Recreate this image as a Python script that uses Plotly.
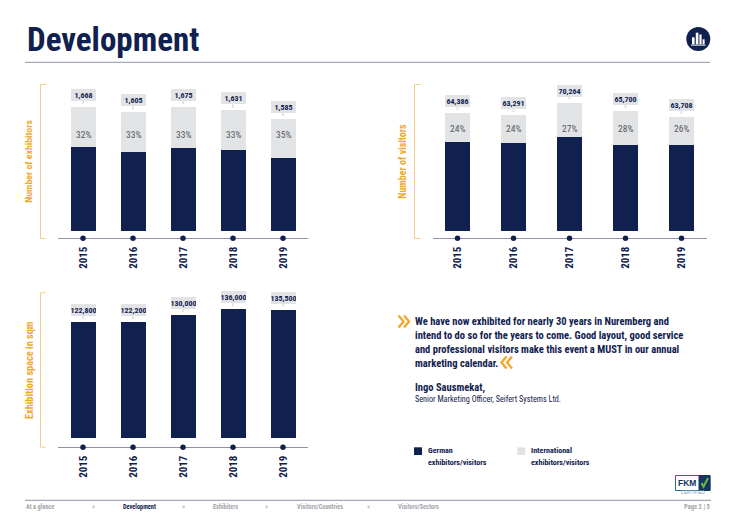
import plotly.graph_objects as go

W, H = 740, 523
NAVY = "#10214f"
GREY = "#e1e3e5"
ORANGE = "#efa92f"
BRACKET = "#f6cd85"
RULE = "#9093aa"
FONT = "Roboto Condensed"

years = ["2015", "2016", "2017", "2018", "2019"]

exhibitors_german = [1131, 1070, 1117, 1090, 982]
exhibitors_international = [538, 526, 552, 532, 525]
exhibitors_labels = ["1,668", "1,605", "1,675", "1,631", "1,585"]
exhibitors_pct = ["32%", "33%", "33%", "33%", "35%"]

visitors_german = [48933, 48101, 51293, 47304, 47144]
visitors_international = [15453, 15190, 18971, 18396, 15400]
visitors_labels = ["64,386", "63,291", "70,264", "65,700", "63,708"]
visitors_pct = ["24%", "24%", "27%", "28%", "26%"]

space_values = [122800, 122200, 130000, 136000, 135500]
space_labels = ["122,800", "122,200", "130,000", "136,000", "135,500"]


def px(x):
    return x / W


def py(y):
    return 1 - y / H


fig = go.Figure()

charts = [
    dict(n="", l=58.3, r=307.7, t=84.5, b=238.2, zero=231.0, upp=1 / 0.0743, sp=50.0),
    dict(n="2", l=432.8, r=706.7, t=84.5, b=238.2, zero=231.0, upp=547.0, sp=56.0),
    dict(n="3", l=58.3, r=307.7, t=292.7, b=447.2, zero=438.3, upp=1054.0, sp=50.0),
]
centre0 = [83.0, 457.5, 83.0]

layout = {}
for c, c0 in zip(charts, centre0):
    xr = [-(c0 - c["l"]) / c["sp"], (c["r"] - c0) / c["sp"]]
    yr = [-(c["b"] - c["zero"]) * c["upp"], (c["zero"] - c["t"]) * c["upp"]]
    c["yr"] = yr
    c["barw"] = 25.0 / c["sp"]
    layout["xaxis" + c["n"]] = dict(
        domain=[px(c["l"]), px(c["r"])], range=xr, anchor="y" + c["n"],
        type="linear", tickmode="array", tickvals=list(range(5)), ticktext=years,
        tickangle=-90, ticks="", showgrid=False, zeroline=False, showline=True,
        linecolor=RULE, linewidth=1, ticklabelstandoff=3, layer="below traces",
        tickfont=dict(family=FONT, size=11, color=NAVY, weight="bold"),
    )
    layout["yaxis" + c["n"]] = dict(
        domain=[py(c["b"]), py(c["t"])], range=yr, anchor="x" + c["n"],
        visible=False, showgrid=False, zeroline=False,
    )

idx = list(range(5))


def bars(vals, c, color, name):
    fig.add_trace(go.Bar(
        x=idx, y=vals, width=c["barw"], marker=dict(color=color, line=dict(width=0)),
        name=name, xaxis="x" + c["n"], yaxis="y" + c["n"], showlegend=False,
        hoverinfo="y",
    ))


def dots(c):
    fig.add_trace(go.Scatter(
        x=idx, y=[c["yr"][0]] * 5, mode="markers", cliponaxis=False,
        marker=dict(color=NAVY, size=5.5), xaxis="x" + c["n"], yaxis="y" + c["n"],
        showlegend=False, hoverinfo="skip",
    ))


anns = []
shapes = []


def value_labels(tops, labels, c):
    for i, (top, lab) in enumerate(zip(tops, labels)):
        anns.append(dict(
            x=i, y=top, xref="x" + c["n"], yref="y" + c["n"], text=f"<b>{lab}</b>",
            showarrow=True, arrowhead=0, arrowwidth=2, arrowcolor=GREY, ax=0, ay=-12,
            standoff=3, bgcolor=GREY, width=25, height=12, borderpad=0, borderwidth=0,
            align="center", valign="middle",
            font=dict(family=FONT, size=8, color=NAVY),
        ))


def pct_labels(labels, c, y_px):
    frac = (c["b"] - y_px) / (c["b"] - c["t"])
    for i, lab in enumerate(labels):
        anns.append(dict(
            x=i, y=frac, xref="x" + c["n"], yref="y" + c["n"] + " domain", text=lab,
            yanchor="middle", showarrow=False,
            font=dict(family=FONT, size=9.5, color="#55585f"),
        ))


c1, c2, c3 = charts
bars(exhibitors_german, c1, NAVY, "German exhibitors/visitors")
bars(exhibitors_international, c1, GREY, "International exhibitors/visitors")
bars(visitors_german, c2, NAVY, "German exhibitors/visitors")
bars(visitors_international, c2, GREY, "International exhibitors/visitors")
bars(space_values, c3, NAVY, "Exhibition space")
for c in charts:
    dots(c)

value_labels([a + b for a, b in zip(exhibitors_german, exhibitors_international)], exhibitors_labels, c1)
value_labels([a + b for a, b in zip(visitors_german, visitors_international)], visitors_labels, c2)
value_labels(space_values, space_labels, c3)
pct_labels(exhibitors_pct, c1, 134.0)
pct_labels(visitors_pct, c2, 128.5)


def paper_text(x, y, text, size, color=NAVY, xanchor="left", angle=0, family=FONT):
    anns.append(dict(
        x=px(x), y=py(y), xref="paper", yref="paper", text=text, showarrow=False,
        xanchor=xanchor, yanchor="middle", textangle=angle, borderpad=0,
        font=dict(family=family, size=size, color=color),
    ))


def rect(x0, y0, x1, y1, fill, line=None, lw=0):
    shapes.append(dict(
        type="rect", xref="paper", yref="paper", x0=px(x0), x1=px(x1), y0=py(y0), y1=py(y1),
        fillcolor=fill, line=dict(color=line or fill, width=lw),
    ))


def hline(x0, x1, y, color=RULE, lw=1):
    shapes.append(dict(
        type="line", xref="paper", yref="paper", x0=px(x0), x1=px(x1), y0=py(y), y1=py(y),
        line=dict(color=color, width=lw),
    ))


def polyline(points, color, lw):
    path = "M " + " L ".join(f"{px(x):.5f},{py(y):.5f}" for x, y in points)
    shapes.append(dict(type="path", xref="paper", yref="paper", path=path, line=dict(color=color, width=lw)))


# Header
paper_text(25.5, 40, "<b>Development</b>", 33)
hline(25, 710, 62.3)
shapes.append(dict(
    type="circle", xref="paper", yref="paper", x0=px(686.3), x1=px(710.3), y0=py(51), y1=py(27),
    fillcolor=NAVY, line=dict(color=NAVY, width=0),
))
rect(692, 37.3, 694.6, 44.3, "white")
rect(695.8, 32.7, 698.4, 44.3, "white")
rect(699.4, 34.5, 701.6, 44.3, "white")
rect(702.6, 39.3, 704.6, 44.3, "white")
rect(691, 44.6, 705.4, 45.6, "white")

# Brackets + axis titles
for xl, xr, top, bot in [(40.5, 45.7, 84.5, 238.5), (414.5, 420, 84.5, 238.5), (40.5, 45.7, 292.7, 447.2)]:
    polyline([(xr, top), (xl, top), (xl, bot), (xr, bot)], BRACKET, 1)
paper_text(29, 161.7, "<b>Number of exhibitors</b>", 9.8, ORANGE, "center", -90)
paper_text(403, 161.7, "<b>Number of visitors</b>", 10, ORANGE, "center", -90)
paper_text(29, 370, "<b>Exhibition space in sqm</b>", 10.3, ORANGE, "center", -90)

# Quote
quote = [
    "We have now exhibited for nearly 30 years in Nuremberg and",
    "intend to do so for the years to come. Good layout, good service",
    "and professional visitors make this event a MUST in our annual",
    "marketing calendar.",
]
for line, y in zip(quote, [321.5, 335.5, 349.5, 363.5]):
    paper_text(414, y, f"<b>{line}</b>", 10.5)
paper_text(414, 387.3, "<b>Ingo Sausmekat,</b>", 10.5)
paper_text(414, 399, "Senior Marketing Officer, Seifert Systems Ltd.", 8.2)

for x0 in (398.5, 404):
    polyline([(x0, 315.5), (x0 + 5, 321.5), (x0, 327.5)], ORANGE, 2.4)
for x0 in (506.5, 512):
    polyline([(x0, 356.5), (x0 - 5, 362.5), (x0, 368.5)], ORANGE, 2.4)

# Legend
rect(414, 447.3, 422, 455, NAVY)
rect(517.3, 447.3, 525.3, 455, GREY)
paper_text(427, 450.5, "<b>German</b>", 8)
paper_text(427, 462, "<b>exhibitors/visitors</b>", 8)
paper_text(530, 450.5, "<b>International</b>", 8)
paper_text(530, 462, "<b>exhibitors/visitors</b>", 8)

# Footer
hline(25, 711, 500.3)
FOOT = "#a3a6ab"
paper_text(25, 506.5, "<b>At a glance</b>", 6.3, FOOT)
paper_text(122, 506.5, "<b>Development</b>", 6.3, NAVY)
paper_text(212, 506.5, "<b>Exhibiters</b>", 6.3, FOOT)
paper_text(295.5, 506.5, "<b>Visitors/Countries</b>", 6.3, FOOT)
paper_text(396.5, 506.5, "<b>Visitors/Sectors</b>", 6.3, FOOT)
for x in (93.3, 183, 266.5, 368):
    paper_text(x, 506.5, "»", 7, FOOT, "center")
paper_text(711, 506.5, "<b>Page 2 | 5</b>", 6.5, FOOT, "right")

# FKM logo
rect(675.5, 475.5, 710, 490.5, "white", "#1f6f8b", 1)
rect(699, 475.5, 710, 490.5, "#12375f", "#12375f", 1)
paper_text(687.3, 483, "<b>FKM</b>", 8.5, "#12375f", "center", family="Liberation Sans")
polyline([(701.5, 483), (703.5, 486.8), (708, 478)], "#6fb63f", 2)
paper_text(692.5, 492.7, "CERTIFIED", 4.5, "#7d9db5", "center", family="Liberation Sans")

fig.update_layout(
    width=W, height=H, margin=dict(l=0, r=0, t=0, b=0, pad=0),
    paper_bgcolor="white", plot_bgcolor="white", barmode="stack", showlegend=False,
    annotations=anns, shapes=shapes, font=dict(family=FONT), **layout,
)
fig.write_html("out.html", config=dict(displayModeBar=False), post_script="document.body.style.margin='0';")
